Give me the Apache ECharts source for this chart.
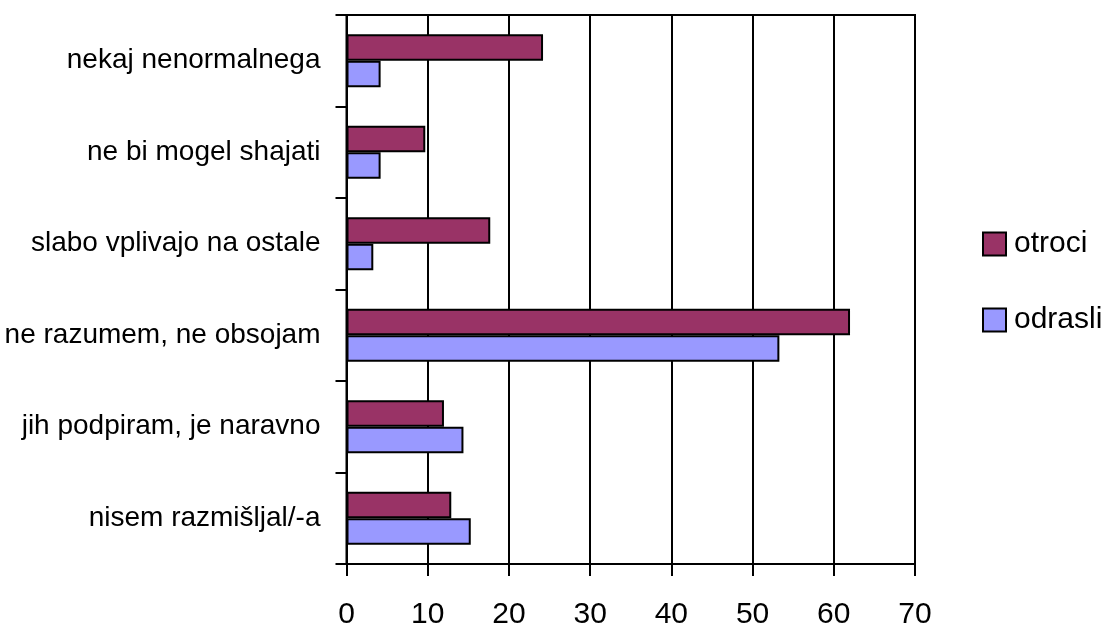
<!DOCTYPE html>
<html>
<head>
<meta charset="utf-8">
<script src="https://cdn.jsdelivr.net/npm/echarts@6/dist/echarts.min.js"></script>
<style>
html,body{margin:0;padding:0;background:#fff;}
#chart{width:1105px;height:632px;}
</style>
</head>
<body>
<div id="chart"></div>
<script>
const categories = [
  "nekaj nenormalnega",
  "ne bi mogel shajati",
  "slabo vplivajo na ostale",
  "ne razumem, ne obsojam",
  "jih podpiram, je naravno",
  "nisem razmišljal/-a"
];
const otroci = [24.2, 9.7, 17.7, 62.0, 12.0, 12.9];
const odrasli = [4.2, 4.2, 3.3, 53.3, 14.4, 15.3];
const seriesNames = ["otroci", "odrasli"];
const xTicks = [0, 10, 20, 30, 40, 50, 60, 70];

const FONT = "'Liberation Sans', Arial, sans-serif";
const chart = echarts.init(document.getElementById('chart'), null, {renderer: 'canvas'});
chart.setOption({
  backgroundColor: '#ffffff',
  animation: false,
  grid: {
    left: 346.5, right: 190, top: 15, bottom: 68,
    show: true, borderColor: '#000', borderWidth: 2,
    containLabel: false, outerBoundsMode: 'none'
  },
  legend: {
    orient: 'vertical',
    left: 982, top: 229,
    padding: 0,
    itemWidth: 23, itemHeight: 23,
    itemGap: 46,
    icon: 'rect',
    textStyle: {fontFamily: FONT, fontSize: 30, color: '#000', padding: [0, 0, 0, 3]},
    itemStyle: {borderColor: '#000', borderWidth: 2},
    data: seriesNames
  },
  xAxis: {
    type: 'value',
    min: xTicks[0], max: xTicks[xTicks.length - 1], interval: 10,
    axisLine: {show: true, lineStyle: {color: '#000', width: 2}},
    axisTick: {show: true, length: 12, lineStyle: {color: '#000', width: 2}},
    axisLabel: {fontFamily: FONT, fontSize: 30, color: '#000', margin: 36},
    splitLine: {show: true, lineStyle: {color: '#000', width: 2}}
  },
  yAxis: {
    type: 'category',
    inverse: true,
    data: categories,
    axisLine: {show: true, lineStyle: {color: '#000', width: 2}},
    axisTick: {show: true, length: 11, lineStyle: {color: '#000', width: 2}},
    axisLabel: {fontFamily: FONT, fontSize: 28, color: '#000', margin: 26}
  },
  series: [
    {
      name: seriesNames[0], type: 'bar', data: otroci,
      barCategoryGap: '42%', barGap: '0%',
      itemStyle: {color: '#993366', borderColor: '#000', borderWidth: 2}
    },
    {
      name: seriesNames[1], type: 'bar', data: odrasli,
      barCategoryGap: '42%', barGap: '0%',
      itemStyle: {color: '#9999FF', borderColor: '#000', borderWidth: 2}
    }
  ]
});
</script>
</body>
</html>
